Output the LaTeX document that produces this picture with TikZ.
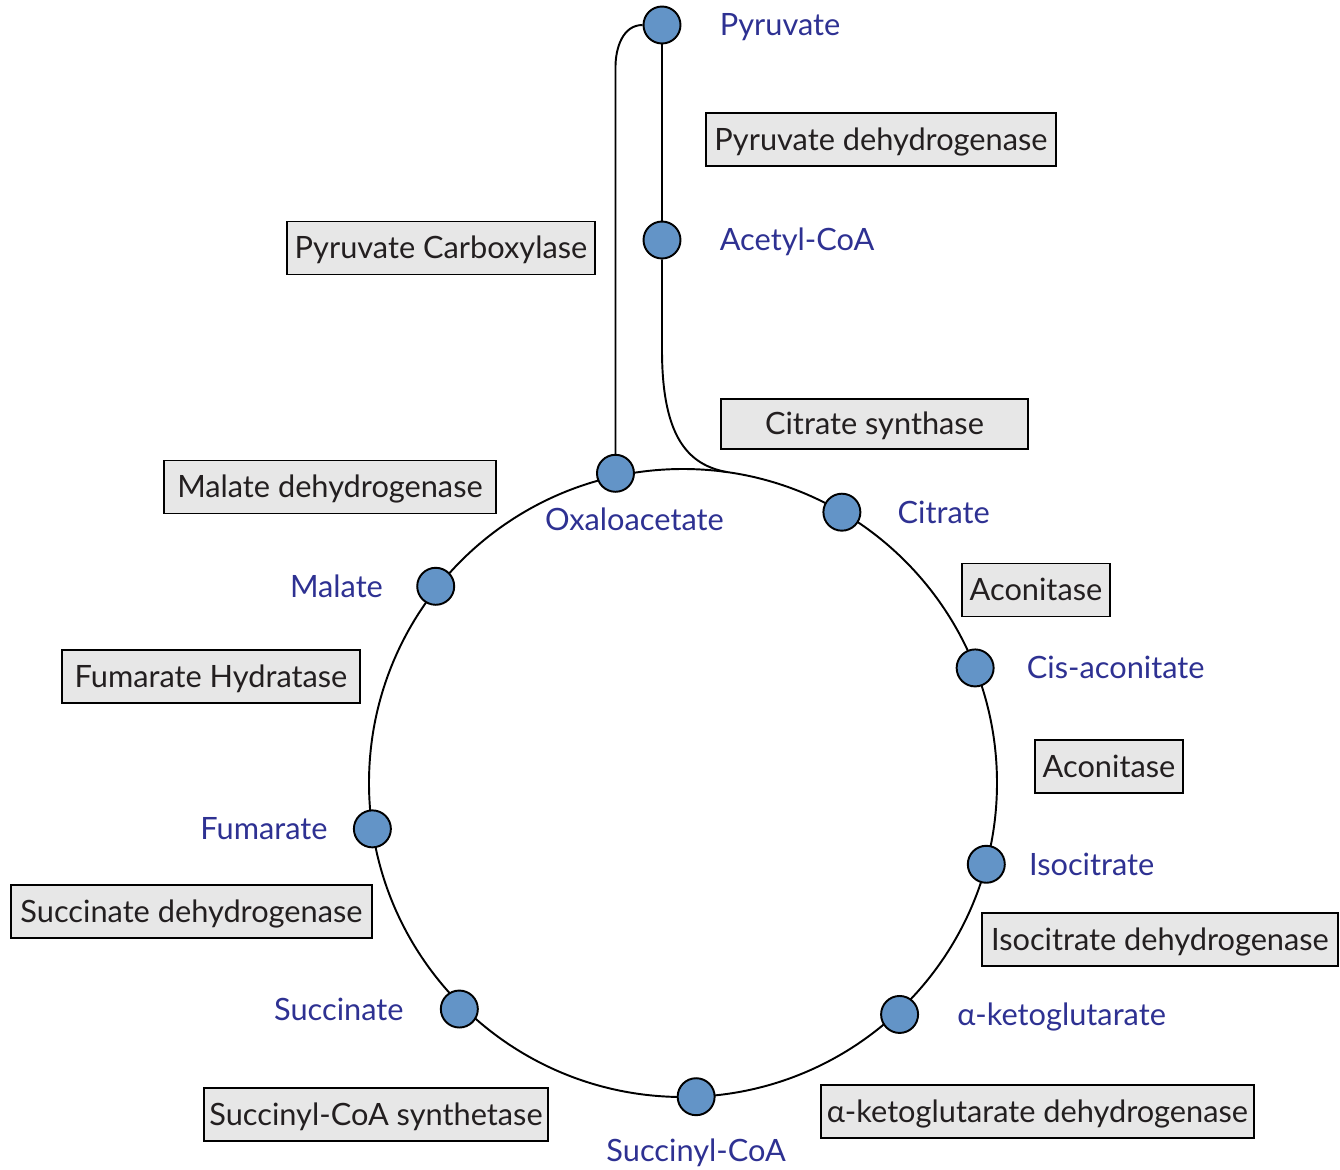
\documentclass[tikz,border=0pt]{standalone}
\usepackage{fontspec}
\setmainfont{Lato}
\usetikzlibrary{positioning, calc}
\definecolor{metBlue}{RGB}{46,49,146}
\definecolor{dotBlue}{RGB}{99,148,199}
\definecolor{boxGray}{RGB}{231,231,231}
\definecolor{boxText}{RGB}{35,31,32}
\tikzstyle{metNode} = [circle, draw=black, line width=1.1pt, fill=dotBlue, minimum size=0.74cm, inner sep=0pt]
\tikzstyle{metLabel} = [inner sep=0pt, text=metBlue, text height=12.5pt, text depth=0pt, font=\fontsize{17.5}{20}\selectfont]
\tikzstyle{enzNode} = [rectangle, draw=black, line width=1.1pt, fill=boxGray, text=boxText, minimum height=1.06cm, text height=12.5pt, text depth=0.5pt, text centered, font=\fontsize{17.5}{20}\selectfont]
\tikzstyle{cycleLine} = [line width=1.1pt, draw=black]

\begin{document}
\begin{tikzpicture}[x=0.02cm, y=0.02cm]
        \useasboundingbox (0,0) rectangle (1340,-1170);
        \coordinate (c) at (683,-783);
        \draw [cycleLine] (c) circle [radius=314];

        % metabolites
        \node (pyr) [metNode] at (662,-25) {};
        \node (acoa) [metNode] at (662,-240) {};
        \node (oaa) [metNode] at ($(c)+(102.3:317)$) {};
        \node (cit) [metNode] at ($(c)+(59.6:314)$) {};
        \node (cis) [metNode] at ($(c)+(21.5:314)$) {};
        \node (iso) [metNode] at ($(c)+(-15:314)$) {};
        \node (akg) [metNode] at ($(c)+(-46.9:317)$) {};
        \node (scoa) [metNode] at ($(c)+(-87.6:314)$) {};
        \node (succ) [metNode] at ($(c)+(225.3:318)$) {};
        \node (fum) [metNode] at ($(c)+(188.4:314)$) {};
        \node (mal) [metNode] at ($(c)+(141.5:316)$) {};
        \coordinate (join) at ($(c)+(82:314)$);
        \coordinate (pcBend) at ($(oaa)+(0,406)$);

        \draw [cycleLine] (pyr) -- (acoa);
        \draw [cycleLine] (acoa) -- ++(0,-110) .. controls +(0,-90) and (690,-465) .. (join);
        \draw [cycleLine] (pyr.west) to[out=180,in=90] (pcBend) -- (oaa);

        % metabolite names
        \node (pyrL) [metLabel, right=0.76cm of pyr] {Pyruvate};
        \node (acoaL) [metLabel, right=0.76cm of acoa] {Acetyl-CoA};
        \node (oaaL) [metLabel, below=0.31cm of oaa, xshift=0.38cm] {Oxaloacetate};
        \node (citL) [metLabel, right=0.72cm of cit] {Citrate};
        \node (cisL) [metLabel, right=0.64cm of cis] {Cis-aconitate};
        \node (isoL) [metLabel, right=0.46cm of iso] {Isocitrate};
        \node (akgL) [metLabel, right=0.76cm of akg] {α-ketoglutarate};
        \node (scoaL) [metLabel, below=0.47cm of scoa] {Succinyl-CoA};
        \node (succL) [metLabel, left=0.72cm of succ] {Succinate};
        \node (fumL) [metLabel, left=0.5cm of fum] {Fumarate};
        \node (malL) [metLabel, left=0.66cm of mal] {Malate};

        % enzymes
        \node (pdh) [enzNode, minimum width=7.0cm] at (881,-139.5) {Pyruvate dehydrogenase};
        \node (pc) [enzNode, minimum width=6.16cm] at (441,-248) {Pyruvate Carboxylase};
        \node (cs) [enzNode, minimum width=6.14cm, minimum height=1.0cm] at (874.5,-424) {Citrate synthase};
        \node (mdh) [enzNode, minimum width=6.64cm] at (330,-487) {Malate dehydrogenase};
        \node (aco1) [enzNode, minimum width=2.96cm] at (1036,-590) {Aconitase};
        \node (fh) [enzNode, minimum width=5.96cm] at (211,-676.5) {Fumarate Hydratase};
        \node (aco2) [enzNode, minimum width=2.96cm] at (1109,-766.5) {Aconitase};
        \node (sdh) [enzNode, minimum width=7.22cm] at (191.5,-911.5) {Succinate dehydrogenase};
        \node (idh) [enzNode, minimum width=7.12cm] at (1160,-939.5) {Isocitrate dehydrogenase};
        \node (scs) [enzNode, minimum width=6.88cm] at (376,-1114.5) {Succinyl-CoA synthetase};
        \node (kgdh) [enzNode, minimum width=8.66cm] at (1037.5,-1111.5) {α-ketoglutarate dehydrogenase};
\end{tikzpicture}
\end{document}
